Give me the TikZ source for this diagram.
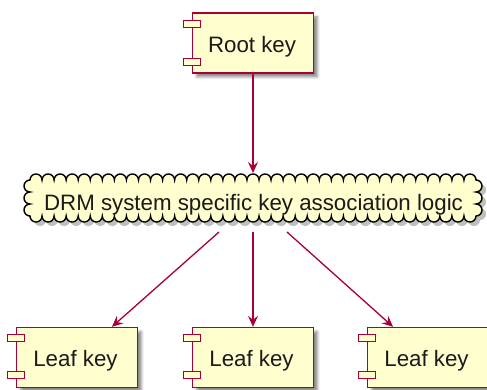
\documentclass[tikz,border=0pt]{standalone}
\usepackage{fontspec}
\setmainfont{Liberation Sans}
\usetikzlibrary{arrows.meta,shadows.blur}
\definecolor{umlfill}{HTML}{FEFECE}
\definecolor{umlred}{HTML}{A80036}
\definecolor{umltext}{HTML}{1A1A1A}
\tikzset{
  x=1pt,y=1pt,
  compbox/.style={draw=umlred,fill=umlfill,line width=1.4pt,minimum width=121pt,minimum height=60pt,inner sep=0pt,
    blur shadow={shadow xshift=4pt,shadow yshift=-4pt,shadow blur radius=2.5pt,shadow opacity=45}},
  tabbox/.style={draw=umlred,fill=umlfill,line width=1.4pt,minimum width=17pt,minimum height=7pt,inner sep=0pt},
  conn/.style={draw=umlred,line width=1.3pt,-{Stealth[length=11pt,width=10pt,inset=4pt]}},
  lbl/.style={font=\fontsize{22.3}{26}\selectfont,text=umltext,inner sep=0pt,anchor=base}
}
\begin{document}
\begin{tikzpicture}
\useasboundingbox (0,0) rectangle (487,389);
% Root key
\node[compbox] (root) at (253,{389-43}) {};
\node[tabbox] (rt1) at ([yshift=-11.5pt]root.north west) {};
\node[tabbox] (rt2) at ([yshift=11.5pt]root.south west) {};
\node[lbl] (roottxt) at (252,{389-53}) {Root key};
% Cloud
\def\cloudpath{(30,{389-180})
  \foreach \i in {1,...,37} { arc[start angle=180,end angle=0,radius=6.027] }
  \foreach \i in {1,...,3} { arc[start angle=90,end angle=-90,radius=6] }
  \foreach \i in {1,...,37} { arc[start angle=0,end angle=-180,radius=6.027] }
  \foreach \i in {1,...,3} { arc[start angle=-90,end angle=-270,radius=6] } -- cycle}
\fill[black,opacity=0.25] [xshift=4pt,yshift=-4pt] \cloudpath;
\filldraw[fill=umlfill,draw=black,line width=1.4pt] \cloudpath;
\node[lbl] (cloud) at (253.5,{389-210}) {DRM system specific key association logic};
\coordinate (ctop) at (253,{389-173});
\coordinate (cbl) at (219,{389-232});
\coordinate (cbm) at (253,{389-232});
\coordinate (cbr) at (287,{389-232});
% Leaves
\node[compbox] (l1) at (77,{389-357.5}) {};
\node[compbox] (l2) at (253,{389-357.5}) {};
\node[compbox] (l3) at (428,{389-357.5}) {};
\foreach \n in {l1,l2,l3} {
  \node[tabbox] at ([yshift=-11pt]\n.north west) {};
  \node[tabbox] at ([yshift=13pt]\n.south west) {};
}
\node[lbl] (t1) at (75.5,{389-366.5}) {Leaf key};
\node[lbl] (t2) at (251.5,{389-366.5}) {Leaf key};
\node[lbl] (t3) at (426.5,{389-366.5}) {Leaf key};
% Connectors
\draw[conn] (root.south) -- (ctop);
\draw[conn] (cbl) -- (l1.north -| 112,0);
\draw[conn] (cbm) -- (l2.north);
\draw[conn] (cbr) -- (l3.north -| 393,0);
\end{tikzpicture}
\end{document}
